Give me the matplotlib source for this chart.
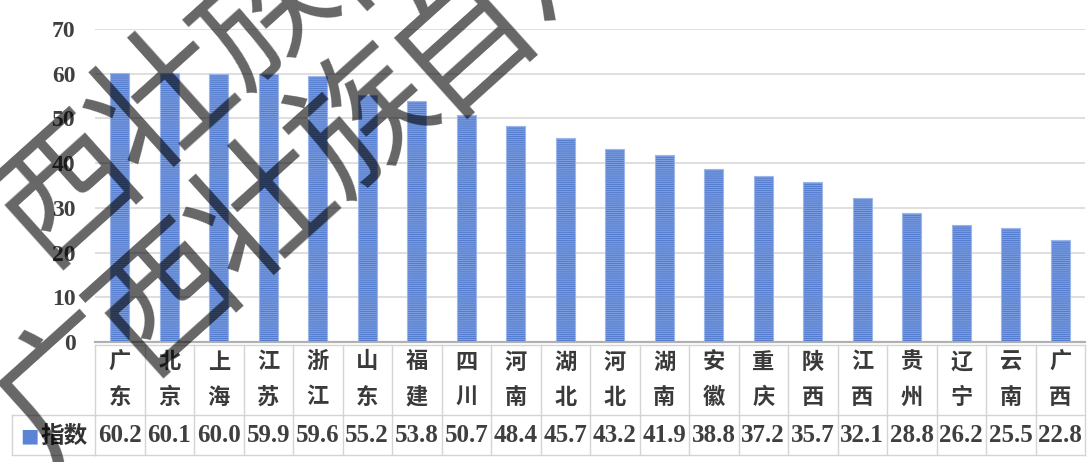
import numpy as np
import matplotlib
matplotlib.use("Agg")
import matplotlib.pyplot as plt
import matplotlib.transforms as mtransforms

plt.rcParams['font.family'] = ['Noto Sans CJK SC', 'DejaVu Sans']
plt.rcParams['hatch.linewidth'] = 0.6

provinces = ["广东", "北京", "上海", "江苏", "浙江", "山东", "福建", "四川", "河南", "湖北",
             "河北", "湖南", "安徽", "重庆", "陕西", "江西", "贵州", "辽宁", "云南", "广西"]
index_values = [60.2, 60.1, 60.0, 59.9, 59.6, 55.2, 53.8, 50.7, 48.4, 45.7,
                43.2, 41.9, 38.8, 37.2, 35.7, 32.1, 28.8, 26.2, 25.5, 22.8]
series_name = "指数"
yticks = [0, 10, 20, 30, 40, 50, 60, 70]
watermark = "广西壮族自治区"

W, H = 1089, 462
fig = plt.figure(figsize=(W / 100, H / 100), dpi=100)
ax = fig.add_axes([95 / W, 1 - 342 / H, 990 / W, 313 / H])

x = np.arange(len(provinces))
ax.bar(x, index_values, width=0.38, color="#7c9ee0", edgecolor="none", zorder=2)
ax.bar(x, index_values, width=0.38, color="none", edgecolor="#4d76cb",
       hatch="--------", linewidth=0, zorder=3)
ax.bar(x, index_values, width=0.38, color="none", edgecolor="#9db6ea",
       linewidth=0.8, zorder=4)

ax.set_xlim(-0.5, len(provinces) - 0.5)
ax.set_ylim(0, 70)
ax.set_yticks(yticks)
ax.set_yticklabels([str(t) for t in yticks], family="Liberation Serif",
                   fontweight="bold", fontsize=17, color="#3f3f3f")
ax.set_xticks([])
ax.tick_params(axis="y", length=0, pad=14)
ax.grid(axis="y", color="#d9d9d9", linewidth=1.2, zorder=0)
for s in ["top", "right", "left"]:
    ax.spines[s].set_visible(False)
ax.spines["bottom"].set_color("#b0b0b0")
ax.spines["bottom"].set_linewidth(1.6)

# data table under the axis
tr = mtransforms.blended_transform_factory(ax.transData, fig.transFigure)
def fy(py):
    return 1 - py / H

grid_kw = dict(color="#d4d4d4", linewidth=1.0, transform=tr, clip_on=False)
row_top, row_mid, row_bot = fy(345), fy(415), fy(455)
for i in range(len(provinces) + 1):
    ax.plot([i - 0.5, i - 0.5], [row_top, row_bot], **grid_kw)
ax.plot([-0.5, len(provinces) - 0.5], [row_top, row_top], **grid_kw)
ax.plot([-0.5, len(provinces) - 0.5], [row_mid, row_mid], **grid_kw)
ax.plot([-0.5, len(provinces) - 0.5], [row_bot, row_bot], **grid_kw)
fig.add_artist(plt.Line2D([12 / W, 95 / W], [row_mid, row_mid], color="#d4d4d4", lw=1.0))
fig.add_artist(plt.Line2D([12 / W, 95 / W], [row_bot, row_bot], color="#d4d4d4", lw=1.0))
fig.add_artist(plt.Line2D([12 / W, 12 / W], [row_mid, row_bot], color="#d4d4d4", lw=1.0))

for i, (name, v) in enumerate(zip(provinces, index_values)):
    ax.text(i, fy(362), name[0], transform=tr, ha="center", va="center",
            fontsize=16, color="#3a3a3a", fontweight="bold")
    ax.text(i, fy(397), name[1], transform=tr, ha="center", va="center",
            fontsize=16, color="#3a3a3a", fontweight="bold")
    ax.text(i, fy(436), f"{v:.1f}", transform=tr, ha="center", va="center",
            family="Liberation Serif", fontweight="bold", fontsize=18, color="#3f3f3f")

fig.text(20 / W, fy(436), "■", ha="left", va="center", fontsize=14, color="#5b84d6",
         family="DejaVu Sans")
fig.text(40 / W, fy(436), series_name, ha="left", va="center", fontsize=17,
         fontweight="bold", color="#333333")

# diagonal watermark
ang = 42
step = 132
ca, sa = np.cos(np.radians(ang)), np.sin(np.radians(ang))
for x0, y0 in [(-30, 280), (70, 388)]:
    for k, ch in enumerate(watermark):
        px = x0 + k * step * ca
        py = y0 - k * step * sa
        fig.text(px / W, fy(py), ch, ha="center", va="center", rotation=ang,
                 rotation_mode="anchor", fontsize=100, fontweight="normal",
                 color="black", alpha=0.6, zorder=10)

fig.savefig("out.png", dpi=100)
